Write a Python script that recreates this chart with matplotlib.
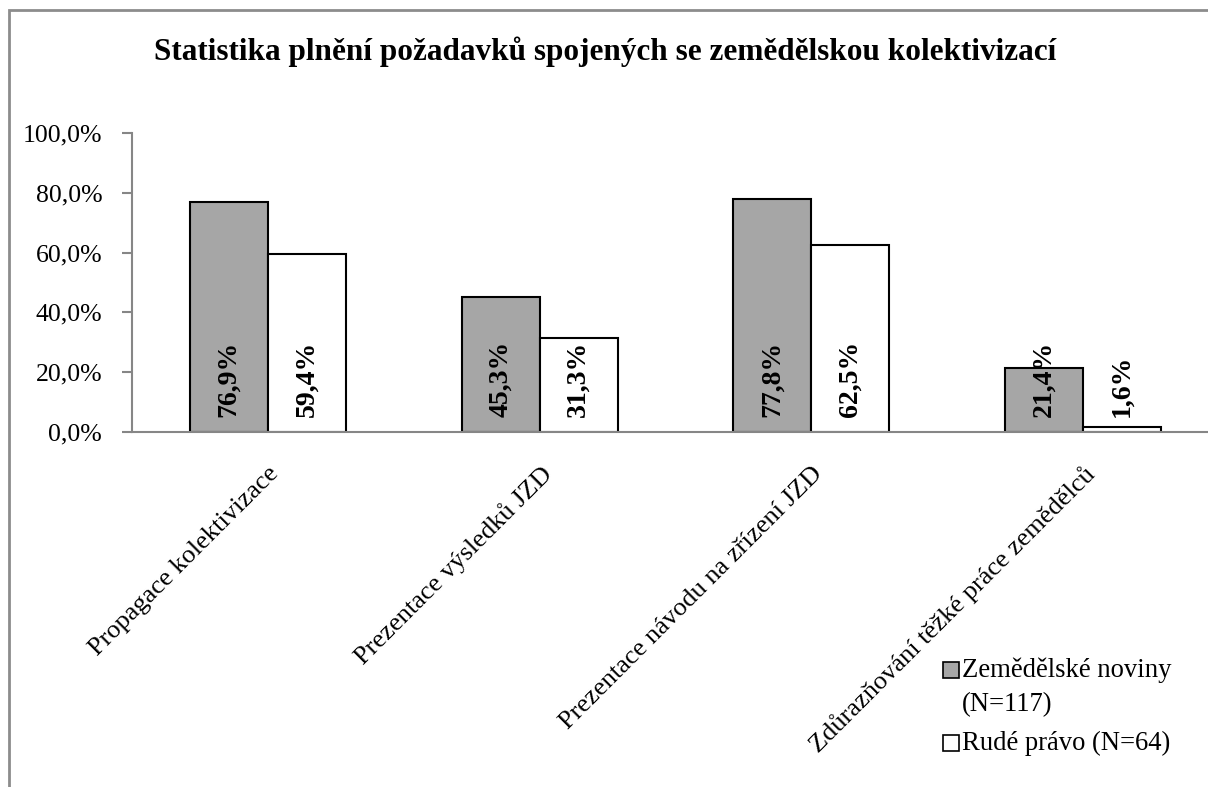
import numpy as np
import matplotlib
matplotlib.use('Agg')
import matplotlib.pyplot as plt
import matplotlib.patches as mpatches
from matplotlib import rc
from matplotlib.ticker import FuncFormatter

rc('font', family=['Liberation Serif', 'DejaVu Serif'], size=18.5)

categories = ['Propagace kolektivizace', 'Prezentace výsledků JZD',
              'Prezentace návodu na zřízení JZD', 'Zdůrazňování těžké práce zemědělců']
zemedelske = [76.9, 45.3, 77.8, 21.4]
rude_pravo = [59.4, 31.3, 62.5, 1.6]
series_labels = ['Zemědělské noviny\n(N=117)', 'Rudé právo (N=64)']
series_colors = ['#a6a6a6', 'white']
title = 'Statistika plnění požadavků spojených se zemědělskou kolektivizací'

W, H = 1208, 787
fig = plt.figure(figsize=(W / 100, H / 100), dpi=100)

# outer frame (only top and left visible in the reference)
fig.patches.append(mpatches.Rectangle((9 / W, -0.1), 1.2, 1 - 10 / H + 0.1, transform=fig.transFigure,
                                      fill=False, edgecolor='#8c8c8c', linewidth=2))

left = 132 / W
right_px = 132 + 4 * 271.7
ax = fig.add_axes([left, 1 - 432 / H, (right_px - 132) / W, (432 - 133) / H])

x = np.arange(len(categories))
w = 0.287
b1 = ax.bar(x - w / 2, zemedelske, w, color=series_colors[0], edgecolor='black', linewidth=1.5)
b2 = ax.bar(x + w / 2, rude_pravo, w, color=series_colors[1], edgecolor='black', linewidth=1.5)

for bars, vals in [(b1, zemedelske), (b2, rude_pravo)]:
    for r, v in zip(bars, vals):
        ax.text(r.get_x() + r.get_width() / 2, 5, ('%.1f%%' % v).replace('.', ','),
                rotation=90, ha='center', va='bottom', fontweight='bold', fontsize=20)

ax.set_xlim(-0.5, 3.5)
ax.set_ylim(0, 100)
ax.set_yticks([0, 20, 40, 60, 80, 100])
ax.yaxis.set_major_formatter(FuncFormatter(lambda v, p: ('%.1f%%' % v).replace('.', ',')))
ax.set_xticks(x)
ax.set_xticklabels(categories, rotation=45, ha='right', rotation_mode='anchor', fontsize=19)
ax.tick_params(axis='x', length=0, pad=22)
ax.tick_params(axis='y', length=7, color='#868686', width=1.5, labelsize=18.5, pad=14.5)
for s in ['top', 'right']:
    ax.spines[s].set_visible(False)
for s in ['left', 'bottom']:
    ax.spines[s].set_color('#868686')
    ax.spines[s].set_linewidth(1.5)

fig.text(605 / W, 1 - 52 / H, title, ha='center', va='center', fontsize=22.5, fontweight='bold')

# legend, drawn by hand so the marker sits on the first text line
leg_baselines = [677, 750]
for lab, col, yb in zip(series_labels, series_colors, leg_baselines):
    fig.patches.append(mpatches.Rectangle((943 / W, 1 - (yb + 1) / H), 16 / W, 16 / H,
                                          transform=fig.transFigure, facecolor=col,
                                          edgecolor='black', linewidth=1.2))
    fig.text(962 / W, 1 - yb / H, lab.split('\n')[0], ha='left', va='baseline', fontsize=19.2)
    if '\n' in lab:
        fig.text(962 / W, 1 - (yb + 34) / H, lab.split('\n')[1], ha='left', va='baseline',
                 fontsize=19.2)

fig.savefig('out.png', dpi=100)
